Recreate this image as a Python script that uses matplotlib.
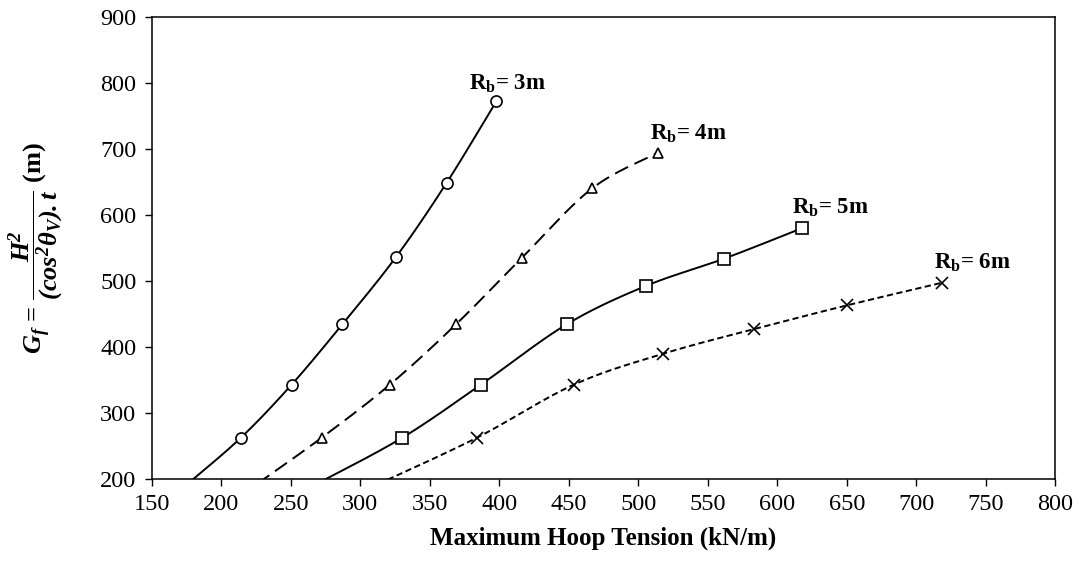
import numpy as np
import matplotlib
matplotlib.use("Agg")
import matplotlib.pyplot as plt

plt.rcParams["font.family"] = ["Liberation Serif", "DejaVu Serif"]
plt.rcParams["mathtext.fontset"] = "custom"
plt.rcParams["mathtext.rm"] = "Liberation Serif"
plt.rcParams["mathtext.it"] = "Liberation Serif:italic"
plt.rcParams["mathtext.bf"] = "Liberation Serif:bold"
plt.rcParams["mathtext.bfit"] = "Liberation Serif:italic:bold"

# Maximum hoop tension (kN/m) and G_f (m) for each bend radius
hoop_rb3 = [176.0, 214.2, 250.7, 287.1, 325.7, 362.2, 397.9]
gf_rb3 = [193.0, 262.6, 343.0, 434.2, 536.0, 648.6, 771.8]

hoop_rb4 = [226.0, 272.3, 321.4, 368.9, 416.1, 466.9, 514.4]
gf_rb4 = [193.0, 262.6, 343.0, 434.2, 534.5, 640.2, 694.1]

hoop_rb5 = [269.0, 330.3, 386.9, 448.5, 505.3, 561.7, 617.6]
gf_rb5 = [193.0, 262.6, 343.0, 434.2, 492.2, 533.6, 579.6]

hoop_rb6 = [313.5, 384.0, 453.8, 517.6, 583.3, 650.2, 718.7]
gf_rb6 = [193.0, 262.6, 343.0, 389.5, 427.1, 463.0, 497.3]

series_labels = [r"$\mathbf{R_b}$= 3m", r"$\mathbf{R_b}$= 4m",
                 r"$\mathbf{R_b}$= 5m", r"$\mathbf{R_b}$= 6m"]

x_ticks = list(range(150, 801, 50))
y_ticks = list(range(200, 901, 100))


def smooth(xs, ys, n=40):
    """Cubic Bezier smoothing through every point (spreadsheet-style)."""
    p = np.column_stack([xs, ys]).astype(float)
    ext = np.vstack([p[0], p, p[-1]])
    out = []
    t = np.linspace(0, 1, n)[:, None]
    for i in range(len(p) - 1):
        p0, p1, p2, p3 = ext[i], ext[i + 1], ext[i + 2], ext[i + 3]
        c1 = p1 + (p2 - p0) / 6.0
        c2 = p2 - (p3 - p1) / 6.0
        seg = ((1 - t) ** 3) * p1 + 3 * ((1 - t) ** 2) * t * c1 \
            + 3 * (1 - t) * t ** 2 * c2 + t ** 3 * p2
        out.append(seg if i == 0 else seg[1:])
    s = np.vstack(out)
    return s[:, 0], s[:, 1]


fig = plt.figure(figsize=(10.86, 5.70), dpi=100)
ax = fig.add_axes([0.1397, 0.1596, 0.8320, 0.8111])

lw = 1.4
styles = [
    (hoop_rb3, gf_rb3, "-", "o", 8.0),
    (hoop_rb4, gf_rb4, (0, (7.5, 3.6)), "^", 7.5),
    (hoop_rb5, gf_rb5, "-", "s", 8.0),
    (hoop_rb6, gf_rb6, (0, (3.2, 1.8)), "x", 8.5),
]

for xs, ys, ls, mk, ms in styles:
    sx, sy = smooth(xs, ys)
    ax.plot(sx, sy, color="black", lw=lw, linestyle=ls, zorder=2)
    xa, ya = np.asarray(xs), np.asarray(ys)
    keep = ya >= 200
    ax.plot(xa[keep], ya[keep], linestyle="none", marker=mk, ms=ms,
            mfc="white" if mk != "x" else "black", mec="black",
            mew=1.2, zorder=3)

# Curve labels next to the last point of each series
label_pos = [(378.2, 789.0), (508.4, 713.3), (610.4, 602.3), (713.0, 519.0)]
for (lx, ly), text in zip(label_pos, series_labels):
    ax.text(lx, ly, text, fontsize=16.5, fontweight="bold",
            ha="left", va="baseline")

ax.set_xlim(150, 800)
ax.set_ylim(200, 900)
ax.set_xticks(x_ticks)
ax.set_yticks(y_ticks)
ax.tick_params(direction="out", length=5, width=1.0, labelsize=17.5,
               pad=6, colors="black")
for sp in ax.spines.values():
    sp.set_linewidth(1.1)
    sp.set_color("black")

ax.set_xlabel("Maximum Hoop Tension (kN/m)", fontsize=18,
              fontweight="bold", labelpad=8)
ax.set_ylabel(r"$\mathbfit{G_f}$ = "
              r"$\dfrac{\mathbfit{H^2}}{\mathbfit{(cos^2\theta_V).t}}$ (m)",
              fontsize=19, fontweight="bold", va="center")
ax.yaxis.set_label_coords(-0.128, 0.5)

fig.savefig("out.png", dpi=100)
